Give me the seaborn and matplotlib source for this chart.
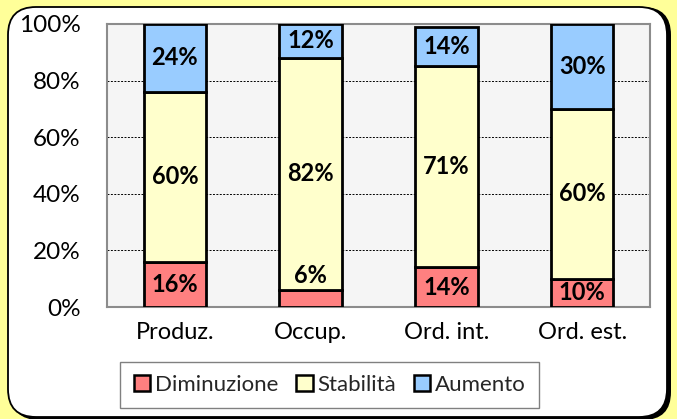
import matplotlib
matplotlib.use("Agg")
import matplotlib.pyplot as plt
import seaborn as sns
import pandas as pd
from matplotlib.patches import FancyBboxPatch, Patch
from matplotlib.transforms import IdentityTransform
from matplotlib.ticker import FuncFormatter

categories = ["Produz.", "Occup.", "Ord. int.", "Ord. est."]
diminuzione = [16, 6, 14, 10]
stabilita = [60, 82, 71, 60]
aumento = [24, 12, 14, 30]
series_names = ["Diminuzione", "Stabilità", "Aumento"]
colors = ["#FF8080", "#FFFFCC", "#99CCFF"]

sns.set_theme(style="white")
plt.rcParams["font.family"] = ["Lato", "DejaVu Sans"]

W, H = 677, 419
fig = plt.figure(figsize=(W / 100, H / 100), dpi=100, facecolor="#FFFF99")

# outer rounded box with shadow
shadow = FancyBboxPatch((11, -1), 660, 413, boxstyle="round,pad=0,rounding_size=28",
                        transform=IdentityTransform(), facecolor="black", edgecolor="black",
                        lw=0, zorder=0)
box = FancyBboxPatch((8, 2), 659, 410, boxstyle="round,pad=0,rounding_size=28",
                     transform=IdentityTransform(), facecolor="white", edgecolor="black",
                     lw=1.3, zorder=1)
fig.patches.extend([shadow, box])

ax = fig.add_axes([107 / W, (H - 307) / H, 543 / W, 283 / H])
ax.set_facecolor("#F5F5F5")
ax.set_zorder(2)

df = pd.DataFrame({"cat": categories, "dim": diminuzione, "stab": stabilita, "aum": aumento})
bottoms = [
    [0] * 4,
    list(df["dim"]),
    [d + s for d, s in zip(df["dim"], df["stab"])],
]
cols = ["dim", "stab", "aum"]
for col, color, bottom in zip(cols, colors, bottoms):
    sns.barplot(data=df, x="cat", y=col, bottom=bottom, color=color, edgecolor="black",
                linewidth=2, width=0.46, ax=ax, saturation=1, zorder=3)

# labels
for i, cat in enumerate(categories):
    vals = [diminuzione[i], stabilita[i], aumento[i]]
    b = 0
    for j, v in enumerate(vals):
        y = b + v / 2
        if v < 8:
            y = b + v + 5
        ax.text(i, y, f"{v}%", ha="center", va="center", fontsize=17,
                fontweight="bold", color="black", zorder=5)
        b += v

ax.set_ylim(0, 100)
ax.set_xlim(-0.5, 3.5)
ax.set_yticks([0, 20, 40, 60, 80, 100])
ax.yaxis.set_major_formatter(FuncFormatter(lambda v, p: f"{int(v)}%"))
ax.tick_params(axis="y", labelsize=17.5, pad=19, length=0, colors="black")
ax.tick_params(axis="x", labelsize=17, pad=11, length=0, colors="black")
ax.set_xlabel("")
ax.set_ylabel("")
for y in [20, 40, 60, 80]:
    ax.axhline(y, color="black", lw=0.7, ls=(0, (2, 1.5)), zorder=1)
for s in ax.spines.values():
    s.set_color("#8C8C8C")
    s.set_linewidth(1.5)
    s.set_visible(True)

handles = [Patch(facecolor=c, edgecolor="black", linewidth=1.8, label=n)
           for c, n in zip(colors, series_names)]
leg = fig.legend(handles=handles, loc="center", bbox_to_anchor=(329.5 / W, 1 - 385 / H),
                 ncol=3, fontsize=16, frameon=True, fancybox=False, handlelength=0.75,
                 handleheight=0.75, handletextpad=0.2, columnspacing=0.8,
                 borderpad=0.6, edgecolor="#808080", framealpha=1)
leg.get_frame().set_linewidth(1.0)

fig.savefig("out.png", dpi=100, facecolor=fig.get_facecolor())
